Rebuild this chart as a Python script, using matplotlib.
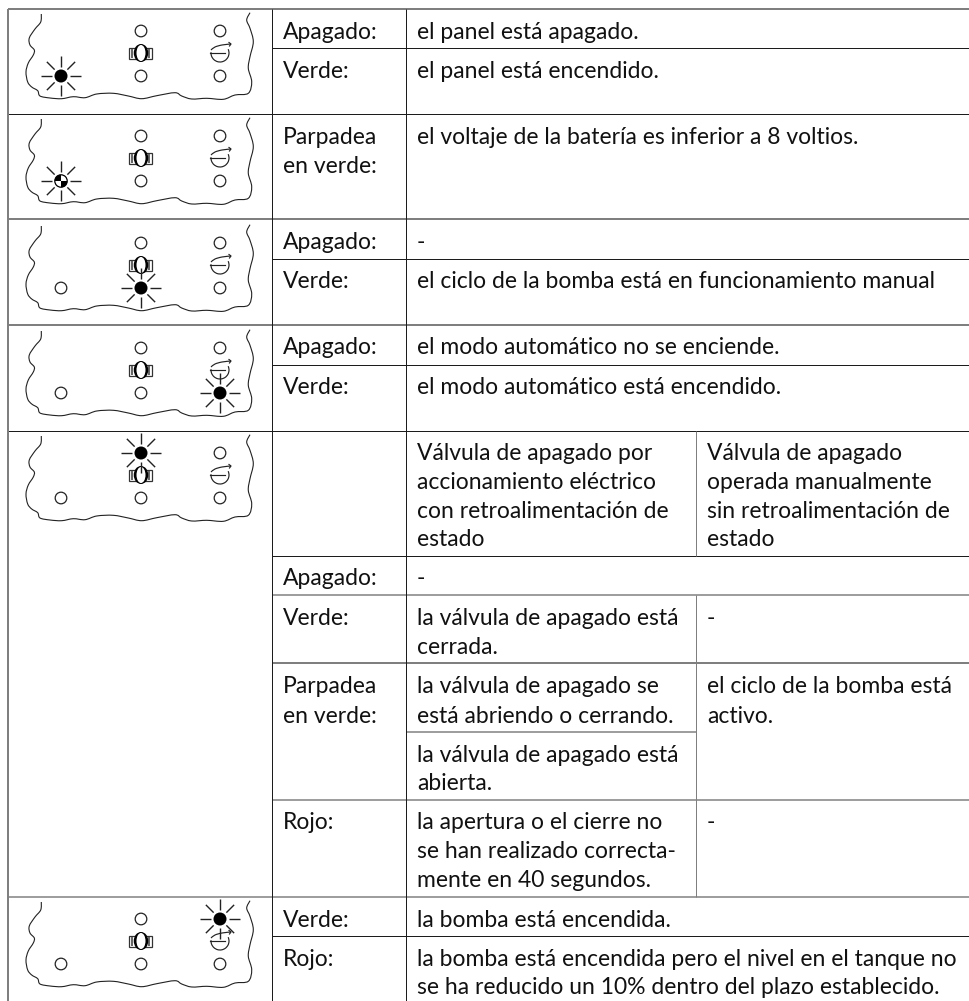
#!/usr/bin/env python3
"""
Tabla de estados de los LED del panel
"""

import numpy as np
import matplotlib
matplotlib.use('Agg')
import matplotlib.pyplot as plt
from matplotlib.patches import Circle, Ellipse, Rectangle, Wedge, PathPatch, Arc
from matplotlib.path import Path

plt.rcParams['font.family'] = ['Lato', 'DejaVu Sans']

GRAY = '#7f7f7f'
DARK = '#1c1c1c'
FONT = 16.45

# Textos: (línea base, texto)
col_state = 283
col_a = 417
col_b = 707

state_labels = [
    (38, 'Apagado:'), (77, 'Verde:'),
    (143, 'Parpadea'), (172, 'en verde:'),
    (248, 'Apagado:'), (287, 'Verde:'),
    (353, 'Apagado:'), (393, 'Verde:'),
    (584, 'Apagado:'), (624, 'Verde:'),
    (692, 'Parpadea'), (722, 'en verde:'),
    (828, 'Rojo:'),
    (926, 'Verde:'), (965, 'Rojo:'),
]
desc_a = [
    (38, 'el panel está apagado.'),
    (77, 'el panel está encendido.'),
    (143, 'el voltaje de la batería es inferior a 8 voltios.'),
    (248, '-'),
    (287, 'el ciclo de la bomba está en funcionamiento manual'),
    (353, 'el modo automático no se enciende.'),
    (393, 'el modo automático está encendido.'),
    (459, 'Válvula de apagado por'), (488, 'accionamiento eléctrico'),
    (517, 'con retroalimentación de'), (545, 'estado'),
    (584, '-'),
    (624, 'la válvula de apagado está'), (653, 'cerrada.'),
    (692, 'la válvula de apagado se'), (722, 'está abriendo o cerrando.'),
    (761, 'la válvula de apagado está'), (789, 'abierta.'),
    (828, 'la apertura o el cierre no'), (857, 'se han realizado correcta-'),
    (886, 'mente en 40 segundos.'),
    (926, 'la bomba está encendida.'),
    (965, 'la bomba está encendida pero el nivel en el tanque no'),
    (993, 'se ha reducido un 10% dentro del plazo establecido.'),
]
desc_b = [
    (459, 'Válvula de apagado'), (488, 'operada manualmente'),
    (517, 'sin retroalimentación de'), (545, 'estado'),
    (624, '-'),
    (692, 'el ciclo de la bomba está'), (722, 'activo.'),
    (828, '-'),
]

# Líneas de la tabla: (y, x0, x1, color, ancho px)
h_lines = [
    (9, 8, 970, GRAY, 2), (48, 272, 970, DARK, 1), (114, 8, 970, DARK, 1),
    (219, 8, 970, GRAY, 2), (259, 272, 970, DARK, 1), (325, 8, 970, GRAY, 2),
    (365, 272, 970, DARK, 1), (431, 8, 970, DARK, 1), (556, 272, 970, DARK, 1),
    (595, 272, 970, GRAY, 1.5), (663, 272, 970, GRAY, 2), (732, 406, 696, GRAY, 1.5),
    (800, 272, 970, GRAY, 1.5), (897, 8, 970, GRAY, 1.5), (936, 272, 970, DARK, 1),
]
v_lines = [
    (8, 9, 1001, GRAY, 2), (272, 9, 1001, DARK, 1), (406, 9, 1001, DARK, 1),
    (696, 431, 556, GRAY, 1), (696, 595, 897, GRAY, 1),
]

# Contorno ondulado del panel (píxeles, icono de la primera fila)
outline_xy = [
    (41.3, 14), (40.7, 22), (35, 29), (29.3, 38), (30, 45), (34.3, 50), (33.3, 55),
    (28.3, 63), (26, 72), (27.7, 82), (31.7, 87), (37.7, 90.7), (40, 96), (50, 98),
    (61.7, 98.7), (73.3, 96.7), (85, 97.7), (96.7, 94), (113.3, 93.3), (128.3, 96),
    (141.7, 98.7), (156.7, 95.7), (175, 92.7), (181.7, 96), (191.7, 99), (206.7, 98.3),
    (223.3, 99.3), (235, 95), (248.3, 93.3), (251.7, 81.7), (248.3, 68.3), (250, 56.7),
    (253.3, 41.7), (250, 28.3), (246.7, 20), (250, 12.7),
]

# Posición vertical de cada icono y LED encendido: (dy, led_x, led_y, modo)
icon_rows = [
    (0, 61, 76, 'on'), (105, 61, 76, 'blink'), (212, 141, 76, 'on'),
    (317, 220, 76, 'on'), (422, 141, 31, 'on'), (888, 220, 31, 'on'),
]
led_xy = [(61, 76), (141, 76), (220, 76), (141, 31), (220, 31)]


def catmull_rom(points):
    pts = np.array(points, dtype=float)
    pts = np.vstack([pts[0], pts, pts[-1]])
    verts = [pts[1]]
    codes = [Path.MOVETO]
    for i in range(1, len(pts) - 2):
        p0, p1, p2, p3 = pts[i - 1], pts[i], pts[i + 1], pts[i + 2]
        verts += [p1 + (p2 - p0) / 6, p2 - (p3 - p1) / 6, p2]
        codes += [Path.CURVE4] * 3
    return Path(verts, codes)


def draw_valve(ax, x, y):
    ax.add_patch(Rectangle((x - 11.5, y - 5), 23, 10.5, fc='white', ec='#333333', lw=0.9, zorder=3))
    ax.add_patch(Rectangle((x - 9.5, y - 4), 2, 8.5, fc='#666666', ec='none', zorder=3))
    ax.add_patch(Rectangle((x + 7.5, y - 4), 2, 8.5, fc='#666666', ec='none', zorder=3))
    ax.add_patch(Ellipse((x, y), 14.5, 18, fc='black', ec='none', zorder=4))
    ax.add_patch(Ellipse((x, y), 9, 16, fc='white', ec='none', zorder=5))


def draw_pump(ax, x, y):
    c = '#222222'
    ax.add_patch(Arc((x, y), 18, 18, theta1=-25, theta2=185, color=c, lw=0.85, zorder=3))
    ax.plot([x - 10, x + 5], [y - 0.5, y - 0.5], color=c, lw=0.85, zorder=4)
    top = catmull_rom([(x - 9, y - 3), (x - 5, y - 6), (x + 2, y - 8), (x + 11, y - 9)])
    ax.add_patch(PathPatch(top, fc='none', ec=c, lw=0.85, zorder=4))
    ax.plot([x + 9, x + 11, x + 9.5], [y - 10.5, y - 9, y - 7], color=c, lw=0.85, zorder=4)


def draw_led(ax, x, y, mode):
    for ang in np.arange(0, 360, 45):
        dx, dy = np.cos(np.radians(ang)), np.sin(np.radians(ang))
        ax.plot([x + 9 * dx, x + 20 * dx], [y + 9 * dy, y + 20 * dy], color='#222222', lw=1.0,
                solid_capstyle='butt', zorder=6)
    if mode == 'on':
        ax.add_patch(Circle((x, y), 6.5, fc='black', ec='none', zorder=7))
    else:
        ax.add_patch(Circle((x, y), 6.2, fc='white', ec='black', lw=0.9, zorder=7))
        ax.add_patch(Wedge((x, y), 6.2, 180, 270, fc='black', ec='none', zorder=8))
        ax.add_patch(Wedge((x, y), 6.2, 0, 90, fc='black', ec='none', zorder=8))


def draw_icon(ax, dy, on_x, on_y, mode):
    base = catmull_rom([(px, py + dy) for px, py in outline_xy])
    ax.add_patch(PathPatch(base, fc='none', ec='#222222', lw=0.8))
    draw_valve(ax, 141, 53 + dy)
    draw_pump(ax, 220, 53 + dy)
    for lx, ly in led_xy:
        if (lx, ly) == (on_x, on_y):
            continue
        ax.add_patch(Circle((lx, ly + dy), 5.8, fc='white', ec='#222222', lw=0.9, zorder=5.5))
    draw_led(ax, on_x, on_y + dy, mode)


fig = plt.figure(figsize=(9.70, 10.01), dpi=100)
ax = fig.add_axes([0, 0, 1, 1])
ax.set_xlim(0, 970)
ax.set_ylim(1001, 0)
ax.axis('off')

for y, x0, x1, color, w in h_lines:
    ax.plot([x0, x1], [y, y], color=color, lw=w * 0.72, solid_capstyle='butt', zorder=1)
for x, y0, y1, color, w in v_lines:
    ax.plot([x, x], [y0, y1], color=color, lw=w * 0.72, solid_capstyle='butt', zorder=1)

for dy, on_x, on_y, mode in icon_rows:
    draw_icon(ax, dy, on_x, on_y, mode)

for col_x, rows in [(col_state, state_labels), (col_a, desc_a), (col_b, desc_b)]:
    for y, txt in rows:
        ax.text(col_x, y + 1, txt, fontsize=FONT, color='#111111', ha='left', va='baseline', zorder=9)

fig.savefig('out.png', dpi=100)
